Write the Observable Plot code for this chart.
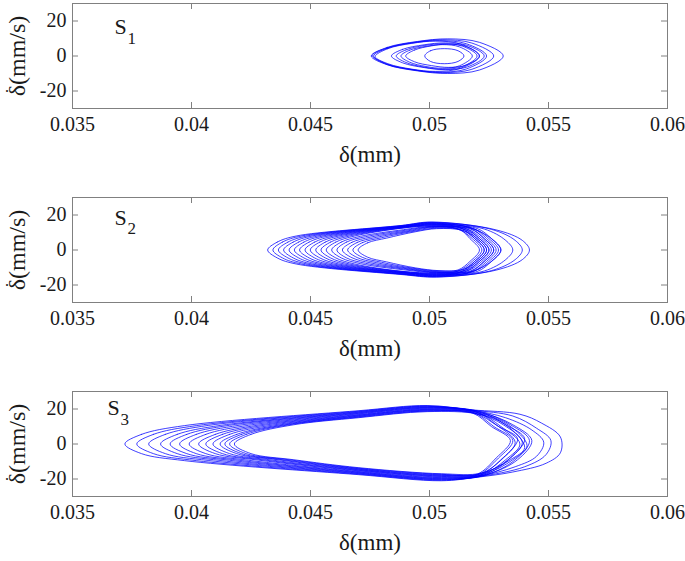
<!DOCTYPE html>
<html><head><meta charset="utf-8">
<script src="https://cdn.jsdelivr.net/npm/d3@7"></script>
<script src="https://cdn.jsdelivr.net/npm/@observablehq/plot@0.6"></script>
<style>
body{margin:0;background:#fff}
#chart svg{display:block}
#chart svg, #chart svg text{font-family:"Liberation Serif","Times New Roman",serif !important}
</style>
</head><body><div id="chart"></div>
<script>
const xTicks = [0.035, 0.04, 0.045, 0.05, 0.055, 0.06];
const yTicks = [-20, 0, 20];
const xLabel = "δ(mm)";
const yLabel = "δ(mm/s)";
const yLabelDot = "\u02D9";   // dot over δ (time derivative)
const panelSubs = ["1", "2", "3"];
const labelX = [0.03676, 0.03676, 0.03647];
const labelY = [16.5, 18.5, 20.5];

// S1: phase loops [delta (mm), delta-dot (mm/s)]
const loopsS1 = [
  [[.04755,0],[.04822,4.9],[.04949,8.3],[.05077,9.8],[.0521,7.8],[.0531,0],[.0521,-8],[.05077,-10],[.04949,-8.5],[.04822,-5]],
  [[.0476,0.3],[.04821,4.6],[.04939,7.9],[.05056,9.3],[.05178,7.4],[.0527,0],[.05178,-7.6],[.05056,-9.5],[.04939,-8.1],[.04821,-4.8]],
  [[.04765,0],[.04822,4.4],[.04931,7.5],[.05041,8.8],[.05155,7],[.0524,0],[.05155,-7.4],[.05041,-9.2],[.04931,-7.8],[.04822,-4.6]],
  [[.04772,-0.3],[.04825,4.2],[.04925,7.2],[.05026,8.5],[.05131,6.8],[.0521,0],[.05131,-7],[.05026,-8.8],[.04925,-7.5],[.04825,-4.4]],
  [[.0484,0],[.04887,3.8],[.04977,6.4],[.05066,7.5],[.0516,6],[.0523,0],[.0516,-6.2],[.05066,-7.8],[.04977,-6.6],[.04887,-3.9]],
  [[.0486,0],[.04901,3.5],[.04979,6],[.05057,7],[.05139,5.6],[.052,0],[.05139,-6],[.05057,-7.5],[.04979,-6.4],[.04901,-3.7]],
  [[.0488,0],[.04916,3.3],[.04985,5.5],[.05054,6.5],[.05126,5.2],[.0518,0],[.05126,-5.6],[.05054,-7],[.04985,-6],[.04916,-3.5]],
  [[.049,0],[.04937,3.4],[.05009,5.8],[.0508,6.8],[.05154,5.4],[.0521,0],[.05154,-5.2],[.0508,-6.5],[.05009,-5.5],[.04937,-3.3]],
  [[.0498,0],[.05004,3],[.05062,4.2],[.0512,3],[.05145,0],[.0512,-3.1],[.05062,-4.4],[.05004,-3.1]]
];

// S2
const loopsS2 = [
  [[.0432,0],[.0436,4.5],[.0444,8],[.0488,14],[.0501,16],[.0528,11.5],[.0539,5.5],[.0542,0],[.0539,-5.5],[.0528,-11.5],[.0503,-15.5],[.0488,-14],[.0444,-8],[.0436,-4.5]],
  [[.04342,0],[.04382,4.5],[.04462,8],[.0488,13.9],[.0501,15.8],[.0526,11.8],[.0536,5.5],[.0539,0],[.0536,-5.5],[.0526,-11.8],[.0503,-15.3],[.0488,-13.8],[.04462,-8],[.04382,-4.5]],
  [[.04365,0],[.04405,4.5],[.04485,8],[.0488,13.7],[.0501,15.6],[.0523,12],[.0532,5.5],[.0535,0],[.0532,-5.5],[.0523,-12],[.0503,-15.1],[.0488,-13.7],[.04485,-8],[.04405,-4.5]],
  [[.04387,0],[.04427,4.5],[.04507,8],[.0488,13.6],[.0501,15.4],[.0518,12.3],[.0527,5.5],[.053,0],[.0527,-5.5],[.0518,-12.3],[.0503,-14.9],[.0488,-13.5],[.04507,-8],[.04427,-4.5]],
  [[.0441,0],[.0445,4.5],[.0453,8],[.0488,13.4],[.0501,15.2],[.0517,12.6],[.0523,6.5],[.0527,0],[.0523,-6.5],[.0517,-12.6],[.0503,-14.7],[.0488,-13.3],[.0453,-8],[.0445,-4.5]],
  [[.04432,0],[.04472,4.5],[.04552,8],[.0488,13.3],[.0501,15],[.0513,12.6],[.0519,6.5],[.0523,0],[.0519,-6.5],[.0513,-12.6],[.0503,-14.5],[.0488,-13.1],[.04552,-8],[.04472,-4.5]],
  [[.04454,0],[.04494,4.5],[.04574,8],[.0488,13.1],[.0501,14.8],[.0518,12.5],[.0524,6.5],[.0528,0],[.0524,-6.5],[.0518,-12.5],[.0503,-14.3],[.0488,-12.9],[.04574,-8],[.04494,-4.5]],
  [[.04477,0],[.04517,4.5],[.04597,8],[.0488,13],[.0501,14.6],[.0515,12.4],[.0521,6.5],[.0525,0],[.0521,-6.5],[.0515,-12.4],[.0503,-14.1],[.0488,-12.8],[.04597,-8],[.04517,-4.5]],
  [[.04499,0],[.04539,4.5],[.04619,8],[.0488,12.8],[.0501,14.4],[.052,12.3],[.0526,6.5],[.053,0],[.0526,-6.5],[.052,-12.3],[.0503,-13.9],[.0488,-12.6],[.04619,-8],[.04539,-4.5]],
  [[.04522,0],[.04562,4.5],[.04642,8],[.0488,12.7],[.0501,14.2],[.0514,12.2],[.052,6.5],[.0524,0],[.052,-6.5],[.0514,-12.2],[.0503,-13.7],[.0488,-12.4],[.04642,-8],[.04562,-4.5]],
  [[.04544,0],[.04584,4.5],[.04664,8],[.0488,12.5],[.0501,13.9],[.0517,12.1],[.0523,6.5],[.0527,0],[.0523,-6.5],[.0517,-12.1],[.0503,-13.4],[.0488,-12.2],[.04664,-8],[.04584,-4.5]],
  [[.04566,0],[.04606,4.5],[.04686,8],[.0488,12.4],[.0501,13.7],[.0512,12],[.0518,6.5],[.0522,0],[.0518,-6.5],[.0512,-12],[.0503,-13.2],[.0488,-12.1],[.04686,-8],[.04606,-4.5]],
  [[.04589,0],[.04629,4.5],[.04709,7.8],[.0489,11.6],[.0501,13.5],[.0516,11.9],[.0522,6.5],[.0526,0],[.0522,-6.5],[.0516,-11.9],[.0503,-13],[.0489,-11.3],[.04709,-7.8],[.04629,-4.5]],
  [[.04611,0],[.04651,4.5],[.04731,7.6],[.049,11.3],[.0501,13.3],[.0519,11.9],[.0525,6.5],[.0529,0],[.0525,-6.5],[.0519,-11.9],[.0503,-12.8],[.049,-11],[.04731,-7.6],[.04651,-4.5]],
  [[.04634,0],[.04674,4.4],[.04754,7.4],[.0491,11],[.0501,13.1],[.0513,11.8],[.0519,6.5],[.0523,0],[.0519,-6.5],[.0513,-11.8],[.0503,-12.6],[.0491,-10.8],[.04754,-7.4],[.04674,-4.4]],
  [[.04656,0],[.04696,4.3],[.04776,7.2],[.0492,10.8],[.0502,12.9],[.0515,11.7],[.0521,6.5],[.0525,0],[.0521,-6.5],[.0515,-11.7],[.0504,-12.4],[.0492,-10.6],[.04776,-7.2],[.04696,-4.3]],
  [[.04678,0],[.04718,4.2],[.04798,7],[.0493,10.6],[.0503,12.5],[.0513,11.4],[.0517,6.5],[.0521,0],[.0517,-6.5],[.0512,-11.4],[.0504,-12],[.0493,-10.4],[.04798,-7],[.04718,-4.2]],
  [[.047,0],[.0474,4.1],[.0482,6.8],[.0494,10.4],[.0503,12.2],[.0514,11.2],[.052,6.5],[.0524,0],[.052,-6.5],[.0514,-11.2],[.0504,-11.8],[.0494,-10.2],[.0482,-6.8],[.0474,-4.1]]
];

// S3
const loopsS3 = [
  [[.0372,0],[.0379,5.5],[.0397,10.5],[.047,19],[.0499,22],[.0518,19.5],[.0538,17],[.0547,12],[.0555,4],[.0555,-5],[.0549,-11],[.0535,-16],[.052,-19],[.0505,-21],[.047,-17.5],[.0397,-9.5],[.0379,-5.5]],
  [[.0377,0],[.0384,5.5],[.0402,10.5],[.047,18.7],[.0499,21.7],[.0518,19.3],[.0535,16],[.0545,9],[.0551,2],[.0549,-6],[.054,-13],[.052,-18.8],[.0505,-20.7],[.047,-17.2],[.0402,-9.5],[.0384,-5.5]],
  [[.0382,0],[.0389,5.5],[.0407,10.6],[.047,18.4],[.0499,21.5],[.0518,19.2],[.0532,15],[.0543,8],[.0548,1],[.0545,-7],[.0536,-13],[.052,-18.7],[.0505,-20.4],[.047,-16.9],[.0407,-9.4],[.0389,-5.5]],
  [[.0387,0],[.0394,5.5],[.0412,10.6],[.047,18.1],[.0499,21.2],[.0521,18.6],[.0534,11],[.0542,2],[.0536,-9],[.0523,-18],[.0505,-20.1],[.047,-16.6],[.0412,-9.4],[.0394,-5.5]],
  [[.0391,0],[.0398,5.5],[.0416,10.7],[.047,17.8],[.0499,20.9],[.0519,18.6],[.0528,11],[.0536,1],[.053,-9],[.0521,-18],[.0505,-19.8],[.047,-16.3],[.0416,-9.3],[.0398,-5.5]],
  [[.0395,0],[.0402,5.5],[.042,10.7],[.047,17.5],[.0499,20.7],[.0521,18.2],[.0532,11],[.054,3],[.0534,-8],[.0523,-17.6],[.0505,-19.5],[.047,-16],[.042,-9.3],[.0402,-5.5]],
  [[.0399,0],[.0406,5.5],[.0424,10.7],[.047,17.2],[.0499,20.4],[.052,18.1],[.053,10],[.0538,0],[.0532,-9],[.0522,-17.6],[.0505,-19.2],[.047,-15.7],[.0424,-9.3],[.0406,-5.5]],
  [[.0403,0],[.041,5.5],[.0428,10.8],[.047,16.8],[.0499,20.1],[.0522,17.8],[.0535,11],[.0543,2],[.0537,-9],[.0524,-17.3],[.0505,-18.8],[.047,-15.3],[.0428,-9.2],[.041,-5.5]],
  [[.0406,0],[.0413,5.5],[.0431,10.8],[.047,16.5],[.0499,19.8],[.0518,18.3],[.0527,10],[.0535,2],[.0529,-8],[.052,-17.8],[.0505,-18.5],[.047,-15],[.0431,-9.2],[.0413,-5.5]],
  [[.0409,0],[.0416,5.5],[.0434,10.8],[.047,16.2],[.0499,19.6],[.0521,17.6],[.0533,11],[.0541,-1],[.0535,-9],[.0523,-17.1],[.0505,-18.2],[.047,-14.7],[.0434,-9.2],[.0416,-5.5]],
  [[.0412,0],[.0419,5.5],[.0437,10.9],[.047,15.9],[.0499,19.3],[.0519,17.6],[.0529,10],[.0537,3],[.0531,-8],[.0521,-17.2],[.0505,-17.9],[.047,-14.4],[.0437,-9.1],[.0419,-5.5]],
  [[.0414,0],[.0421,5.5],[.0439,10.9],[.047,15.6],[.0499,19],[.052,17.3],[.0531,11],[.0539,1],[.0533,-9],[.0522,-16.9],[.0505,-17.6],[.047,-14.1],[.0439,-9.1],[.0421,-5.5]],
  [[.0416,0],[.0423,5.5],[.0441,11],[.047,15.3],[.0499,18.8],[.0518,17.7],[.0526,10],[.0534,2],[.0528,-8],[.052,-17.2],[.0505,-17.3],[.047,-13.8],[.0441,-9],[.0423,-5.5]],
  [[.0418,0],[.0425,5.5],[.0443,11],[.047,15],[.0499,18.5],[.0521,17],[.0532,11],[.054,-2],[.0534,-9],[.0522,-16.6],[.0505,-17],[.047,-13.5],[.0443,-9],[.0425,-5.5]]
];

const panels = [loopsS1, loopsS2, loopsS3];
const heights = [194, 194, 173];
const axisColor = "#808080";
const textColor = "#1a1a1a";
const font = "'Liberation Serif', 'Times New Roman', serif";
const mL = 72, mR = 18, mT = 3, innerH = 105, tickLen = 6;
const innerW = 685 - mL - mR;

const chart = document.getElementById("chart");
panels.forEach((loops, k) => {
  const rows = loops.flatMap((pts, i) => pts.map(([x, y]) => ({loop: i, x, y})));
  const h = heights[k];
  const svg = Plot.plot({
    width: 685, height: h,
    marginLeft: mL, marginRight: mR, marginTop: mT, marginBottom: h - mT - innerH,
    x: {domain: [0.035, 0.06]},
    y: {domain: [-30, 30]},
    style: {fontFamily: font, fontSize: "20px", color: textColor, background: "#fff", overflow: "visible"},
    marks: [
      Plot.line(rows, {x: "x", y: "y", z: "loop", curve: "catmull-rom-closed", stroke: "#0000ff", strokeWidth: 0.75}),
      Plot.frame({stroke: axisColor, strokeWidth: 1}),
      Plot.tickX(xTicks, {x: d => d, insetTop: innerH - tickLen, stroke: axisColor}),
      Plot.tickX(xTicks, {x: d => d, insetBottom: innerH - tickLen, stroke: axisColor}),
      Plot.tickY(yTicks, {y: d => d, insetLeft: innerW - tickLen, stroke: axisColor}),
      Plot.tickY(yTicks, {y: d => d, insetRight: innerW - tickLen, stroke: axisColor}),
      Plot.axisX(xTicks, {tickSize: 0, tickPadding: 8, tickFormat: d => String(d), label: null, fontSize: 20}),
      Plot.axisY(yTicks, {tickSize: 0, tickPadding: 6, tickFormat: d => String(d), label: null, fontSize: 20}),
      Plot.text([xLabel], {frameAnchor: "bottom", dy: 46, fontSize: 23, textAnchor: "middle", lineAnchor: "middle", fill: textColor}),
      Plot.text([yLabel], {frameAnchor: "left", dx: -55, rotate: -90, fontSize: 24, textAnchor: "middle", lineAnchor: "middle", fill: textColor}),
      Plot.text([yLabelDot], {frameAnchor: "left", dx: -59, dy: 35, rotate: -90, fontSize: 18, textAnchor: "middle", lineAnchor: "middle", fill: textColor}),
      Plot.text([{x: labelX[k], y: labelY[k], t: "S"}], {x: "x", y: "y", text: "t", textAnchor: "start", lineAnchor: "middle", fontSize: 22, fill: textColor}),
      Plot.text([{x: labelX[k], y: labelY[k], t: panelSubs[k]}], {x: "x", y: "y", text: "t", dx: 13, dy: 11, textAnchor: "start", lineAnchor: "middle", fontSize: 17, fill: textColor})
    ]
  });
  chart.appendChild(svg);
});
</script>
</body></html>
